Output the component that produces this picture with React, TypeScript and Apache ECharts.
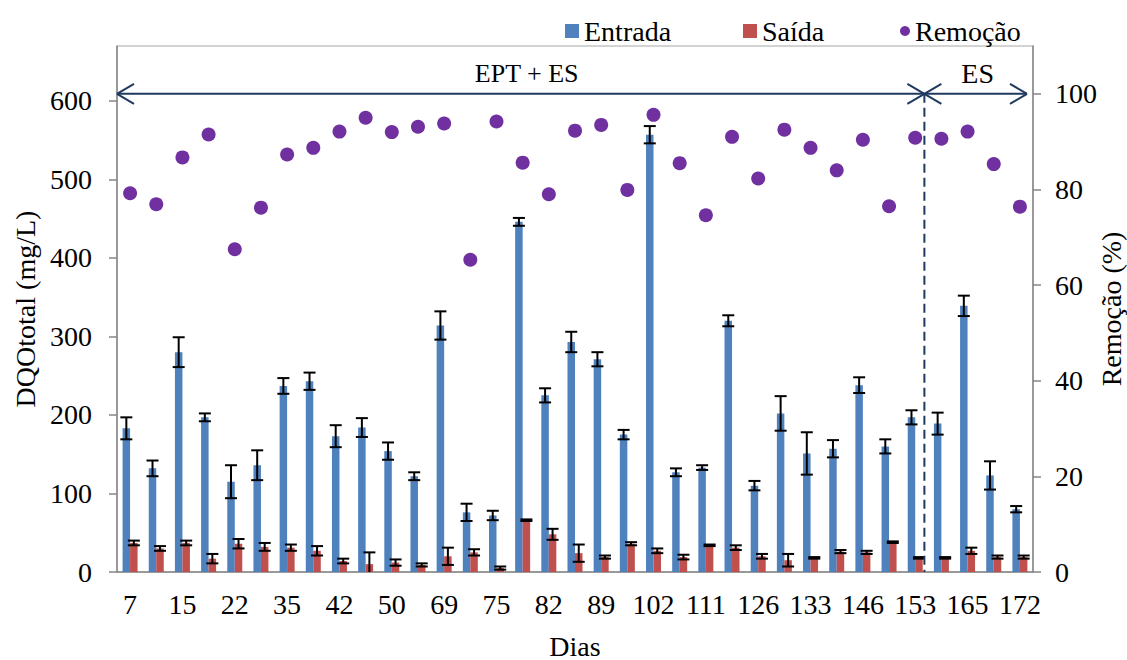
import React, { useEffect, useRef } from "react";
import * as echarts from "echarts";

const days = [7, 10, 15, 17, 22, 28, 35, 38, 42, 46, 50, 56, 69, 71, 75, 78, 82, 86, 89, 96, 102, 105, 111, 119, 126, 129, 133, 140, 146, 150, 153, 160, 165, 169, 172];
const entrada = [183, 132, 280, 197, 115, 136, 237, 243, 173, 184, 154, 122, 314, 76, 72, 446, 225, 293, 271, 175, 557, 127, 133, 320, 110, 202, 151, 157, 238, 160, 197, 189, 339, 123, 80];
const entradaErr = [14, 10, 19, 5, 21, 19, 10, 11, 14, 12, 11, 5, 18, 11, 6, 5, 9, 13, 9, 6, 11, 5, 3, 7, 6, 22, 27, 11, 10, 9, 9, 14, 13, 18, 4];
const saida = [37, 30, 37, 17, 36, 32, 31, 27, 14, 10, 12, 9, 20, 25, 5, 66, 48, 24, 19, 36, 27, 19, 34, 31, 20, 15, 18, 26, 25, 38, 18, 18, 27, 19, 19];
const saidaErr = [3, 3, 3, 6, 6, 5, 4, 6, 3, 15, 4, 2, 11, 4, 2, 1, 7, 11, 2, 2, 3, 3, 1, 3, 3, 8, 1, 2, 2, 1, 1, 1, 4, 2, 2];
const remocao = [79.2, 76.9, 86.7, 91.5, 67.5, 76.2, 87.3, 88.7, 92.1, 95, 92, 93.1, 93.8, 65.3, 94.2, 85.6, 79, 92.3, 93.5, 79.9, 95.6, 85.5, 74.6, 91, 82.3, 92.5, 88.7, 84, 90.4, 76.5, 90.8, 90.6, 92.1, 85.3, 76.4];
const leftTicks = [0, 100, 200, 300, 400, 500, 600];
const rightTicks = [0, 20, 40, 60, 80, 100];
const splitIndex = 30; // last category of phase "EPT + ES"

const FONT = "Liberation Serif";
const NAVY = "#1f3a5f";
const BAR_W = 7.5;

function errSeries(name: string, vals: number[], errs: number[], offset: number) {
  return {
    name,
    type: "custom",
    yAxisIndex: 0,
    z: 5,
    clip: true,
    encode: { x: 0, y: [1, 2] },
    data: vals.map((v, i) => [i, v - errs[i], v + errs[i]]),
    renderItem: (params: any, api: any) => {
      const i = api.value(0);
      const lo = api.coord([i, api.value(1)]);
      const hi = api.coord([i, api.value(2)]);
      const x = lo[0] + offset;
      const cap = 6;
      const st = { stroke: "#000", lineWidth: 2 };
      return {
        type: "group",
        children: [
          { type: "line", shape: { x1: x, y1: lo[1], x2: x, y2: hi[1] }, style: st },
          { type: "line", shape: { x1: x - cap, y1: hi[1], x2: x + cap, y2: hi[1] }, style: st },
          { type: "line", shape: { x1: x - cap, y1: lo[1], x2: x + cap, y2: lo[1] }, style: st },
        ],
      };
    },
  };
}

export default function App() {
  const ref = useRef<HTMLDivElement>(null);
  useEffect(() => {
    if (!ref.current) return;
    const chart = echarts.init(ref.current, null, { renderer: "svg" });
    const axisColor = "#868686";
    const txt = { color: "#000", fontFamily: FONT, fontSize: 28 };
    chart.setOption({
      animation: false,
      textStyle: { fontFamily: FONT },
      grid: {
        left: 117, right: 94, top: 46, bottom: 88, show: true, borderColor: "#a6a6a6", borderWidth: 1,
        outerBoundsMode: "none", containLabel: false,
      },
      legend: [
        { data: ["Entrada"], left: 560, top: 12, icon: "rect", itemWidth: 14, itemHeight: 14, textStyle: txt },
        { data: ["Saída"], left: 738, top: 12, icon: "rect", itemWidth: 14, itemHeight: 14, textStyle: txt },
        { data: ["Remoção"], left: 895, top: 12, icon: "circle", itemWidth: 10, itemHeight: 10, textStyle: txt },
      ],
      xAxis: {
        type: "category",
        data: days.map(String),
        boundaryGap: true,
        axisLine: { lineStyle: { color: axisColor, width: 1.5 } },
        axisTick: { interval: 0, length: 8, lineStyle: { color: axisColor, width: 1.5 } },
        axisLabel: { interval: 1, margin: 18, ...txt },
        name: "Dias",
        nameLocation: "middle",
        nameGap: 60,
        nameMoveOverlap: false,
        nameTextStyle: txt,
      },
      yAxis: [
        {
          type: "value",
          min: 0,
          max: 670,
          axisLine: { show: true, lineStyle: { color: axisColor, width: 1.5 } },
          axisTick: { show: true, length: 8, customValues: leftTicks, lineStyle: { color: axisColor, width: 1.5 } },
          axisLabel: { customValues: leftTicks, margin: 25, ...txt },
          splitLine: { show: false },
          name: "DQOtotal (mg/L)",
          nameLocation: "middle",
          nameRotate: 90,
          nameGap: 78,
          nameMoveOverlap: false,
          nameTextStyle: txt,
        },
        {
          type: "value",
          position: "right",
          min: 0,
          max: 110,
          axisLine: { show: true, lineStyle: { color: axisColor, width: 1.5 } },
          axisTick: { show: true, length: 8, customValues: rightTicks, lineStyle: { color: axisColor, width: 1.5 } },
          axisLabel: { customValues: rightTicks, margin: 22, ...txt },
          splitLine: { show: false },
          name: "Remoção (%)",
          nameLocation: "middle",
          nameRotate: 90,
          nameGap: 64,
          nameMoveOverlap: false,
          nameTextStyle: txt,
        },
      ],
      series: [
        { name: "Entrada", type: "bar", yAxisIndex: 0, barWidth: BAR_W, barGap: "0%", itemStyle: { color: "#4f81bd" }, data: entrada, z: 2 },
        { name: "Saída", type: "bar", yAxisIndex: 0, barWidth: BAR_W, barGap: "0%", itemStyle: { color: "#c0504d" }, data: saida, z: 2 },
        errSeries("errEntrada", entrada, entradaErr, -BAR_W / 2),
        errSeries("errSaida", saida, saidaErr, BAR_W / 2),
        { name: "Remoção", type: "scatter", yAxisIndex: 1, symbolSize: 14, itemStyle: { color: "#7030a0", opacity: 1 }, data: remocao, z: 6 },
      ],
    });

    const cx = (i: number) => chart.convertToPixel({ xAxisIndex: 0 }, i) as number;
    const w = cx(1) - cx(0);
    const left = cx(0) - w / 2;
    const right = cx(days.length - 1) + w / 2;
    const split = cx(splitIndex) + 0.35 * w;
    const ay = chart.convertToPixel({ yAxisIndex: 1 }, 100) as number;
    const by = chart.convertToPixel({ yAxisIndex: 1 }, 0) as number;
    const tipR = right - 6;
    const ah = 17;
    const av = 10;
    const ls = { stroke: NAVY, lineWidth: 2 };
    const ln = (x1: number, y1: number, x2: number, y2: number, style: any = ls) => ({
      type: "line",
      shape: { x1, y1, x2, y2 },
      style,
      z: 10,
    });
    chart.setOption({
      graphic: [
        ln(left, ay, tipR, ay),
        ln(left, ay, left + ah, ay - av),
        ln(left, ay, left + ah, ay + av),
        ln(split, ay, split - ah, ay - av),
        ln(split, ay, split - ah, ay + av),
        ln(split, ay, split + ah, ay - av),
        ln(split, ay, split + ah, ay + av),
        ln(tipR, ay, tipR - ah, ay - av),
        ln(tipR, ay, tipR - ah, ay + av),
        ln(split, ay, split, by, { stroke: NAVY, lineWidth: 2, lineDash: [9, 5] }),
        {
          type: "text",
          x: (left + split) / 2 + 6,
          y: ay - 20,
          z: 10,
          style: { text: "EPT + ES", fill: "#000", font: `26px ${FONT}`, textAlign: "center", textVerticalAlign: "middle" },
        },
        {
          type: "text",
          x: (split + tipR) / 2 + 2,
          y: ay - 20,
          z: 10,
          style: { text: "ES", fill: "#000", font: `28px ${FONT}`, textAlign: "center", textVerticalAlign: "middle" },
        },
      ],
    });
    return () => chart.dispose();
  }, []);
  return <div ref={ref} style={{ width: 1127, height: 660, position: "absolute", left: 0, top: 0 }} />;
}
